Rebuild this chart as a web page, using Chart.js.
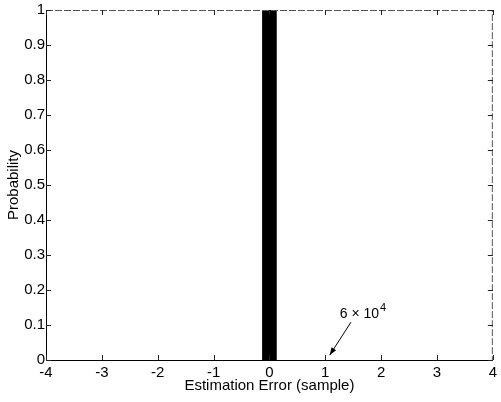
<!DOCTYPE html>
<html>
<head>
<meta charset="utf-8">
<script src="https://cdn.jsdelivr.net/npm/chart.js@4/dist/chart.umd.min.js"></script>
<style>
  body { margin: 0; background: #fff; }
  #wrap { width: 501px; height: 402px; }
</style>
</head>
<body>
<div id="wrap"><canvas id="chart" width="501" height="402"></canvas></div>
<script>
// histogram of estimation error: all the mass sits in the bin at 0
const errors = [0];
const probs = [1];
const xTicks = [-4, -3, -2, -1, 0, 1, 2, 3, 4];
const yTicks = [0, 0.1, 0.2, 0.3, 0.4, 0.5, 0.6, 0.7, 0.8, 0.9, 1];

// annotation: label and the arrow pointing at the axis near x = 1
const noteText = ['6 \u00d7 10', '4'];
const noteAt = { x: 1.26, y: 0.12 };
const arrowFrom = { x: 1.46, y: 0.108 };
const arrowTo = { x: 1.08, y: 0.014 };

const font = 'Liberation Sans, Arial, sans-serif';

// matlab style box with inward ticks on every side
const boxPlugin = {
  id: 'box',
  afterDraw: (chart) => {
    const { ctx, chartArea: a, scales: { x, y } } = chart;
    ctx.save();
    ctx.strokeStyle = '#000';
    ctx.lineWidth = 1;
    ctx.beginPath();
    ctx.moveTo(a.left + 0.5, a.top);
    ctx.lineTo(a.left + 0.5, a.bottom + 0.5);
    ctx.lineTo(a.right, a.bottom + 0.5);
    ctx.stroke();
    ctx.strokeStyle = '#555';
    ctx.setLineDash([7, 2]);
    ctx.beginPath();
    ctx.moveTo(a.left, a.top + 0.5);
    ctx.lineTo(a.right - 0.5, a.top + 0.5);
    ctx.lineTo(a.right - 0.5, a.bottom);
    ctx.stroke();
    ctx.setLineDash([]);
    ctx.strokeStyle = '#222';
    ctx.beginPath();
    xTicks.forEach((t) => {
      const px = Math.round(x.getPixelForValue(t)) + 0.5;
      ctx.moveTo(px, a.bottom);
      ctx.lineTo(px, a.bottom - 5);
      ctx.moveTo(px, a.top);
      ctx.lineTo(px, a.top + 5);
    });
    yTicks.forEach((t) => {
      const py = Math.round(y.getPixelForValue(t)) + 0.5;
      ctx.moveTo(a.left, py);
      ctx.lineTo(a.left + 5, py);
      ctx.moveTo(a.right, py);
      ctx.lineTo(a.right - 5, py);
    });
    ctx.stroke();

    // annotation text with superscript
    ctx.fillStyle = '#000';
    ctx.font = '14px ' + font;
    ctx.textBaseline = 'alphabetic';
    const tx = x.getPixelForValue(noteAt.x);
    const ty = y.getPixelForValue(noteAt.y);
    ctx.fillText(noteText[0], tx, ty);
    const w = ctx.measureText(noteText[0]).width;
    ctx.font = '11px ' + font;
    ctx.fillText(noteText[1], tx + w + 1, ty - 7);

    // arrow
    const x1 = x.getPixelForValue(arrowFrom.x);
    const y1 = y.getPixelForValue(arrowFrom.y);
    const x2 = x.getPixelForValue(arrowTo.x);
    const y2 = y.getPixelForValue(arrowTo.y);
    ctx.strokeStyle = '#000';
    ctx.beginPath();
    ctx.moveTo(x1, y1);
    ctx.lineTo(x2, y2);
    ctx.stroke();
    const ang = Math.atan2(y2 - y1, x2 - x1);
    ctx.beginPath();
    ctx.moveTo(x2, y2);
    ctx.lineTo(x2 - 8 * Math.cos(ang - 0.35), y2 - 8 * Math.sin(ang - 0.35));
    ctx.lineTo(x2 - 8 * Math.cos(ang + 0.35), y2 - 8 * Math.sin(ang + 0.35));
    ctx.closePath();
    ctx.fill();
    ctx.restore();
  },
};

new Chart(document.getElementById('chart'), {
  type: 'bar',
  plugins: [boxPlugin],
  data: {
    datasets: [
      {
        data: errors.map((e, i) => ({ x: e, y: probs[i] })),
        backgroundColor: '#000',
        borderWidth: 0,
        barThickness: 14,
      },
    ],
  },
  options: {
    responsive: false,
    animation: false,
    layout: { padding: { top: 10, right: 5, left: 0, bottom: 0 } },
    plugins: { legend: { display: false }, tooltip: { enabled: false } },
    scales: {
      x: {
        type: 'linear',
        min: -4,
        max: 4,
        offset: false,
        grid: { display: false, drawTicks: false },
        border: { display: false },
        afterBuildTicks: (s) => { s.ticks = xTicks.map((v) => ({ value: v })); },
        afterFit: (s) => { s.height = 42; },
        ticks: {
          color: '#000',
          padding: 4,
          maxRotation: 0,
          font: { family: font, size: 15 },
          callback: (v) => String(v),
        },
        title: {
          display: true,
          text: 'Estimation Error (sample)',
          color: '#000',
          font: { family: font, size: 15 },
          padding: { top: 0, bottom: 7 },
        },
      },
      y: {
        min: 0,
        max: 1,
        grid: { display: false, drawTicks: false },
        border: { display: false },
        afterBuildTicks: (s) => { s.ticks = yTicks.map((v) => ({ value: v })); },
        afterFit: (s) => { s.width = 46; },
        ticks: {
          color: '#000',
          padding: 1,
          font: { family: font, size: 15 },
          callback: (v) => String(v),
        },
        title: {
          display: true,
          text: 'Probability',
          color: '#000',
          font: { family: font, size: 15 },
          padding: { top: 5, bottom: 0 },
        },
      },
    },
  },
});
</script>
</body>
</html>
